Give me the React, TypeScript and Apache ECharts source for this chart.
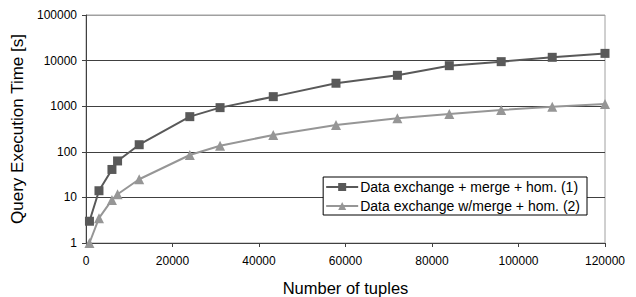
import React, { useEffect, useRef } from "react";
import * as echarts from "echarts";

const tuples1 = [800, 3000, 6000, 7300, 12300, 24000, 31000, 43300, 57800, 72000, 84000, 96000, 107800, 120000];
const times1 = [3, 14, 41, 63, 143, 590, 930, 1620, 3190, 4760, 7740, 9480, 11800, 14400];
const tuples2 = [800, 3000, 6000, 7300, 12300, 24000, 31000, 43300, 57800, 72000, 84000, 96000, 107800, 120000];
const times2 = [1, 3.5, 8.8, 11.7, 25, 85, 136, 234, 387, 542, 674, 826, 975, 1117];
const seriesNames = ["Data exchange + merge + hom. (1)", "Data exchange w/merge + hom. (2)"];
const xTitle = "Number of tuples";
const yTitle = "Query Execution Time [s]";

export default function App() {
  const ref = useRef<HTMLDivElement>(null);
  useEffect(() => {
    const chart = echarts.init(ref.current!, undefined, { renderer: "svg" });
    const font = "Arial, 'Liberation Sans', sans-serif";
    chart.setOption({
      animation: false,
      backgroundColor: "#fff",
      textStyle: { fontFamily: font },
      grid: {
        left: 86, right: 31, top: 15, bottom: 54,
        outerBoundsMode: "none",
        containLabel: false,
        show: true, borderColor: "#a0a0a0", borderWidth: 1,
      },
      legend: {
        show: true,
        right: 49, top: 177,
        orient: "vertical",
        backgroundColor: "#fff",
        borderColor: "#000",
        borderWidth: 1,
        borderRadius: 0,
        padding: [3, 7, 2, 2],
        itemWidth: 32,
        itemHeight: 10,
        itemGap: 5,
        textStyle: { fontFamily: font, fontSize: 14, color: "#000", padding: [0, 0, 0, -3] },
        data: seriesNames,
      },
      xAxis: {
        type: "value",
        min: 0, max: 120000, interval: 20000,
        name: xTitle,
        nameLocation: "middle",
        nameGap: 36,
        nameTextStyle: { fontFamily: font, fontSize: 16.5, color: "#000" },
        axisLine: { show: true, lineStyle: { color: "#404040", width: 1 } },
        axisTick: { show: true, length: 4, lineStyle: { color: "#404040" } },
        axisLabel: { fontFamily: font, fontSize: 12, color: "#000", margin: 12, formatter: (v: number) => String(v) },
        splitLine: { show: false },
      },
      yAxis: {
        type: "log",
        logBase: 10,
        min: 1, max: 100000,
        name: yTitle,
        nameLocation: "middle",
        nameGap: 59,
        nameTextStyle: { fontFamily: font, fontSize: 17, color: "#000" },
        axisLine: { show: true, lineStyle: { color: "#404040", width: 1 } },
        axisTick: { show: true, length: 4, lineStyle: { color: "#404040" } },
        axisLabel: { fontFamily: font, fontSize: 12, color: "#000", margin: 9, formatter: (v: number) => String(Math.round(v)) },
        splitLine: {
          show: true,
          lineStyle: { color: ["#404040", "#404040", "#404040", "#404040", "#404040", "#a0a0a0"], width: 1 },
        },
      },
      series: [
        {
          name: seriesNames[0],
          type: "line",
          data: tuples1.map((x, i) => [x, times1[i]]),
          symbol: "rect",
          symbolSize: 9,
          lineStyle: { color: "#595959", width: 2 },
          itemStyle: { color: "#595959" },
          z: 3,
        },
        {
          name: seriesNames[1],
          type: "line",
          data: tuples2.map((x, i) => [x, times2[i]]),
          symbol: "triangle",
          symbolSize: 10,
          lineStyle: { color: "#969696", width: 2 },
          itemStyle: { color: "#969696" },
          z: 2,
        },
      ],
    });
    return () => chart.dispose();
  }, []);
  return <div ref={ref} style={{ width: 636, height: 297, position: "absolute", left: 0, top: 0 }} />;
}
